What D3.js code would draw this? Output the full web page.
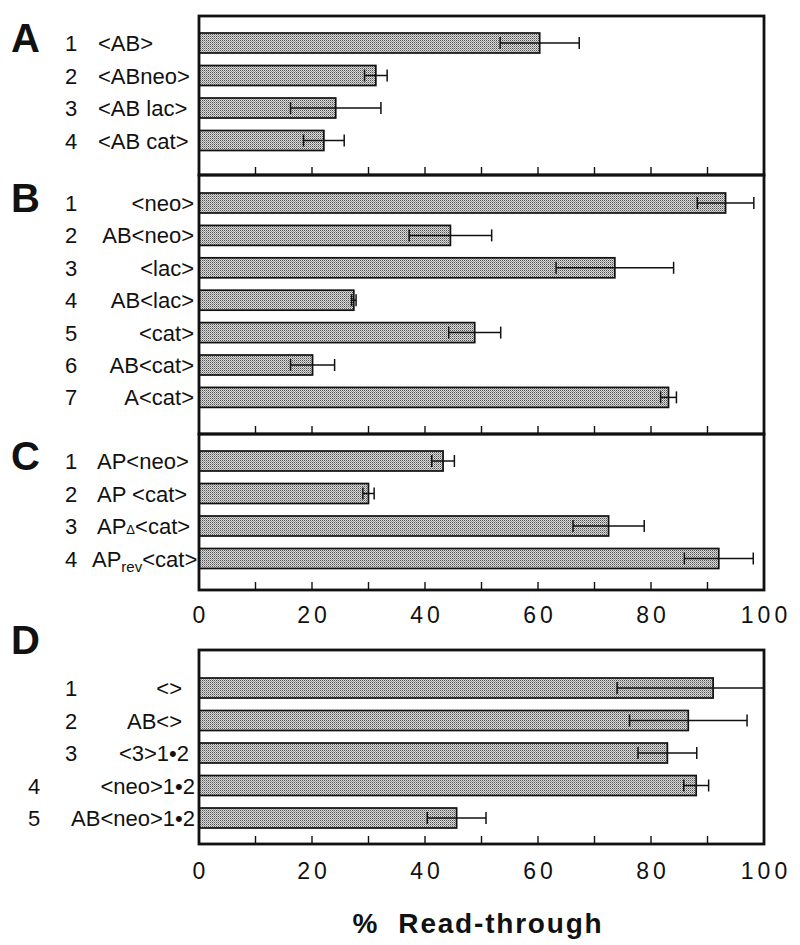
<!DOCTYPE html>
<html>
<head>
<meta charset="utf-8">
<script src="https://cdn.jsdelivr.net/npm/d3@7"></script>
<style>
  html, body { margin: 0; padding: 0; background: #fff; }
  svg { display: block; }
  text { font-family: "Liberation Sans", Arial, Helvetica, sans-serif; fill: #111; }
</style>
</head>
<body>
<svg id="chart" width="800" height="945"></svg>
<script>
// ---------------- DATA ----------------
const panelNames = ["A", "B", "C", "D"];

const labelsA = ["<AB>", "<ABneo>", "<AB lac>", "<AB cat>"];
const valuesA = [60.3, 31.3, 24.2, 22.1];
const errorsA = [7.0, 2.0, 8.0, 3.6];

const labelsB = ["<neo>", "AB<neo>", "<lac>", "AB<lac>", "<cat>", "AB<cat>", "A<cat>"];
const valuesB = [93.2, 44.5, 73.6, 27.4, 48.8, 20.1, 83.1];
const errorsB = [5.0, 7.3, 10.4, 0.4, 4.6, 3.9, 1.4];

const labelsC = ["AP<neo>", "AP <cat>", "AP{Δ}<cat>", "AP_{rev}<cat>"];
const valuesC = [43.2, 30.0, 72.5, 92.0];
const errorsC = [2.0, 1.0, 6.3, 6.1];

const labelsD = ["<>", "AB<>", "<3>1•2", "<neo>1•2", "AB<neo>1•2"];
const valuesD = [91.0, 86.6, 82.9, 88.0, 45.6];
const errorsD = [17.0, 10.4, 5.2, 2.2, 5.2];

const tickLabelValues = [0, 20, 40, 60, 80, 100];
const tickLabels = ["0", "20", "40", "60", "80", "100"];
const minorTickValues = [10, 20, 30, 40, 50, 60, 70, 80, 90];
const axisTitle = "% Read-through";

// ---------------- LAYOUT ----------------
const svg = d3.select("#chart");
const X0 = 199, X1 = 764;
const x = d3.scaleLinear().domain([0, 100]).range([X0, X1]).clamp(true);

// pattern fill for stippled bars
const defs = svg.append("defs");
const pat = defs.append("pattern").attr("id", "stip")
  .attr("width", 2).attr("height", 2).attr("patternUnits", "userSpaceOnUse");
pat.append("rect").attr("width", 2).attr("height", 2).attr("fill", "#dcdcdc");
pat.append("rect").attr("width", 1).attr("height", 1).attr("fill", "#505050");
pat.append("rect").attr("x", 1).attr("y", 1).attr("width", 1).attr("height", 1).attr("fill", "#959595");

const panels = [
  { name: "A", labels: labelsA, values: valuesA, errors: errorsA, top: 16, bottom: 175, barStart: 33, step: 32.5,
    align: "start", labelX: 98, letterY: 52 },
  { name: "B", labels: labelsB, values: valuesB, errors: errorsB, top: 175, bottom: 434, barStart: 193, step: 32.4,
    align: "end", labelX: 194, letterY: 212 },
  { name: "C", labels: labelsC, values: valuesC, errors: errorsC, top: 434, bottom: 590, barStart: 451, step: 32.5,
    align: "start", labelX: 97, letterY: 470, labelXs: [97, 97, 97, 92] },
  { name: "D", labels: labelsD, values: valuesD, errors: errorsD, top: 650, bottom: 844, barStart: 678, step: 32.5,
    align: "end", labelX: 194, letterY: 654, labelXs: [182, 182, 189, 195, 195], numXs: [71, 71, 71, 34, 34] }
];

const BAR_H = 20;

function addLabel(g, str, xPos, yPos, anchor) {
  const t = g.append("text").attr("x", xPos).attr("y", yPos)
    .attr("text-anchor", anchor).attr("font-size", 22);
  const re = /(_\{[^}]*\}|\{[^}]*\})/;
  let pendingDy = 0;
  str.split(re).filter(s => s.length).forEach(seg => {
    if (seg.startsWith("_{")) {
      t.append("tspan").attr("font-size", 15).attr("dy", 5).text(seg.slice(2, -1));
      pendingDy = -5;
    } else if (seg.startsWith("{")) {
      t.append("tspan").attr("font-size", 13).attr("dy", pendingDy).text(seg.slice(1, -1));
      pendingDy = 0;
    } else {
      t.append("tspan").attr("font-size", 22).attr("dy", pendingDy).text(seg);
      pendingDy = 0;
    }
  });
  return t;
}

panels.forEach(p => {
  const n = p.values.length;
  const pad = 1 - BAR_H / p.step;
  const y = d3.scaleBand()
    .domain(d3.range(n))
    .range([p.barStart, p.barStart + p.step * (n - pad)])
    .paddingInner(pad).paddingOuter(0);

  const g = svg.append("g").attr("class", "panel-" + p.name);

  // bars
  g.selectAll("rect.bar").data(p.values).join("rect").attr("class", "bar")
    .attr("x", x(0)).attr("y", (d, i) => y(i))
    .attr("width", d => x(d) - x(0)).attr("height", y.bandwidth())
    .attr("fill", "url(#stip)").attr("stroke", "#111").attr("stroke-width", 1.7);

  // error bars
  const eg = g.selectAll("g.err").data(p.values).join("g").attr("class", "err");
  eg.append("line")
    .attr("x1", (d, i) => x(d - p.errors[i])).attr("x2", (d, i) => x(d + p.errors[i]))
    .attr("y1", (d, i) => y(i) + y.bandwidth() / 2).attr("y2", (d, i) => y(i) + y.bandwidth() / 2)
    .attr("stroke", "#111").attr("stroke-width", 1.5);
  [-1, 1].forEach(s => {
    eg.append("line")
      .attr("x1", (d, i) => x(d + s * p.errors[i])).attr("x2", (d, i) => x(d + s * p.errors[i]))
      .attr("y1", (d, i) => y(i) + y.bandwidth() / 2 - 6).attr("y2", (d, i) => y(i) + y.bandwidth() / 2 + 6)
      .attr("stroke", "#111").attr("stroke-width", 1.5);
  });

  // ticks at bottom (pointing up)
  g.selectAll("line.tick").data(minorTickValues).join("line").attr("class", "tick")
    .attr("x1", d => x(d)).attr("x2", d => x(d))
    .attr("y1", p.bottom).attr("y2", p.bottom - 8)
    .attr("stroke", "#111").attr("stroke-width", 1.4);

  // frame
  g.append("rect").attr("x", X0).attr("y", p.top)
    .attr("width", X1 - X0).attr("height", p.bottom - p.top)
    .attr("fill", "none").attr("stroke", "#111").attr("stroke-width", 2.8);

  // row numbers and labels
  p.labels.forEach((lab, i) => {
    const cy = y(i) + y.bandwidth() / 2 + 8;
    const nx = p.numXs ? p.numXs[i] : 71;
    g.append("text").attr("x", nx).attr("y", cy).attr("text-anchor", "middle")
      .attr("font-size", 22).text(String(i + 1));
    const lx = p.labelXs ? p.labelXs[i] : p.labelX;
    addLabel(g, lab, lx, cy, p.align);
  });

  // panel letter
  g.append("text").attr("x", 11).attr("y", p.letterY)
    .attr("font-size", 40).attr("font-weight", "bold").text(p.name);
});

// tick value labels under C and D
function addTickLabels(baseY) {
  svg.append("g").selectAll("text").data(tickLabelValues).join("text")
    .attr("x", d => x(d) + 2).attr("y", baseY)
    .attr("text-anchor", "middle").attr("font-size", 23)
    .attr("letter-spacing", 4)
    .text((d, i) => tickLabels[i]);
}
addTickLabels(623);
addTickLabels(879);

// axis title
svg.append("text").attr("x", 478).attr("y", 933)
  .attr("text-anchor", "middle").attr("font-size", 28).attr("font-weight", "bold")
  .attr("letter-spacing", 1.8)
  .text(axisTitle.replace(" ", "\u00a0\u00a0"));
</script>
</body>
</html>
